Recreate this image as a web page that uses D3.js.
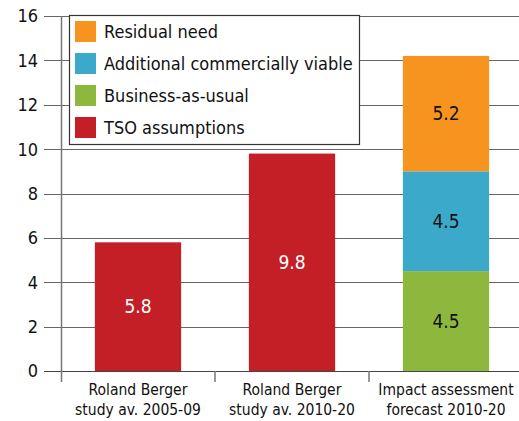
<!DOCTYPE html>
<html>
<head>
<meta charset="utf-8">
<script src="https://cdn.jsdelivr.net/npm/d3@7"></script>
<style>
  body { margin: 0; background: #fff; }
  svg text { font-family: "DejaVu Sans Condensed", "DejaVu Sans", sans-serif; }
</style>
</head>
<body>
<div id="chart"></div>
<script>
var categories = [
  ["Roland Berger", "study av. 2005-09"],
  ["Roland Berger", "study av. 2010-20"],
  ["Impact assessment", "forecast 2010-20"]
];
var seriesNames = ["TSO assumptions", "Business-as-usual", "Additional commercially viable", "Residual need"];
var tso = [5.8, 9.8, 0];
var businessAsUsual = [0, 0, 4.5];
var additional = [0, 0, 4.5];
var residual = [0, 0, 5.2];
var yTicks = [0, 2, 4, 6, 8, 10, 12, 14, 16];
var colors = ["#c41f27", "#8db83d", "#3ba9c9", "#f7941f"];
var labelColors = ["#fff", "#111", "#111", "#111"];

var width = 519, height = 421;

var rows = categories.map((c, i) => ({
  idx: i,
  values: [tso[i], businessAsUsual[i], additional[i], residual[i]]
}));

var svg = d3.select("#chart")
  .append("svg")
    .attr("width", width)
    .attr("height", height);

var x = d3.scaleBand()
  .domain(d3.range(categories.length))
  .range([61, 523])
  .paddingInner(0.44)
  .paddingOuter(0.22);

var y = d3.scaleLinear()
  .domain([0, 16])
  .range([371, 16]);

// gridlines (extend left past axis as tick marks)
svg.append("g")
  .selectAll("line")
  .data(yTicks)
  .join("line")
    .attr("x1", 44)
    .attr("x2", width)
    .attr("y1", d => Math.round(y(d)) + 0.5)
    .attr("y2", d => Math.round(y(d)) + 0.5)
    .attr("stroke", d => d == 0 ? "#444" : "#666")
    .attr("stroke-width", 1.2);

// y tick labels
svg.append("g")
  .selectAll("text")
  .data(yTicks)
  .join("text")
    .attr("x", 38)
    .attr("y", d => y(d))
    .attr("dy", "0.36em")
    .attr("text-anchor", "end")
    .attr("font-size", 18)
    .attr("fill", "#111")
    .text(d => d);

// y axis line
svg.append("line")
  .attr("x1", 61.5).attr("x2", 61.5)
  .attr("y1", y(16)).attr("y2", 382)
  .attr("stroke", "#777")
  .attr("stroke-width", 1.5);

// x category ticks
svg.append("g")
  .selectAll("line")
  .data([1, 2])
  .join("line")
    .attr("x1", d => x(d) - x.step() * x.paddingInner() / 2)
    .attr("x2", d => x(d) - x.step() * x.paddingInner() / 2)
    .attr("y1", y(0))
    .attr("y2", 382)
    .attr("stroke", "#777")
    .attr("stroke-width", 1.5);

// stacked bars
var stack = d3.stack()
  .keys([0, 1, 2, 3])
  .value((d, k) => d.values[k]);
var layers = stack(rows);

var layer = svg.append("g")
  .selectAll("g")
  .data(layers)
  .join("g")
    .attr("fill", (d, i) => colors[i]);

layer.selectAll("rect")
  .data(d => d.filter(s => s[1] - s[0] > 0))
  .join("rect")
    .attr("x", d => x(d.data.idx))
    .attr("width", x.bandwidth())
    .attr("y", d => y(d[1]))
    .attr("height", d => y(d[0]) - y(d[1]));

layer.each(function(l, i) {
  d3.select(this).selectAll("text")
    .data(l.filter(s => s[1] - s[0] > 0))
    .join("text")
      .attr("x", d => x(d.data.idx) + x.bandwidth() / 2)
      .attr("y", d => y((d[0] + d[1]) / 2))
      .attr("dy", "0.36em")
      .attr("text-anchor", "middle")
      .attr("font-size", 19)
      .attr("fill", labelColors[i])
      .text(d => d3.format(".1f")(d[1] - d[0]));
});

// category labels
var cat = svg.append("g")
  .selectAll("text")
  .data(categories)
  .join("text")
    .attr("x", (d, i) => x(i) + x.bandwidth() / 2)
    .attr("text-anchor", "middle")
    .attr("font-size", 15.5)
    .attr("fill", "#111");
cat.append("tspan").attr("x", (d, i) => x(i) + x.bandwidth() / 2).attr("y", 395).text(d => d[0]);
cat.append("tspan").attr("x", (d, i) => x(i) + x.bandwidth() / 2).attr("y", 415).text(d => d[1]);

// legend
var legend = svg.append("g").attr("transform", "translate(69,15)");
legend.append("rect")
  .attr("x", 0.5).attr("y", 0.5)
  .attr("width", 290).attr("height", 129)
  .attr("fill", "#fff")
  .attr("stroke", "#333")
  .attr("stroke-width", 1.2);

var legendOrder = [3, 2, 1, 0];
var item = legend.selectAll("g.item")
  .data(legendOrder)
  .join("g")
    .attr("class", "item")
    .attr("transform", (d, i) => "translate(6," + (6 + i * 32) + ")");
item.append("rect")
  .attr("width", 21).attr("height", 21)
  .attr("fill", d => colors[d]);
item.append("text")
  .attr("x", 29)
  .attr("y", 11)
  .attr("dy", "0.36em")
  .attr("font-size", 18)
  .attr("fill", "#111")
  .text(d => seriesNames[d]);
</script>
</body>
</html>
